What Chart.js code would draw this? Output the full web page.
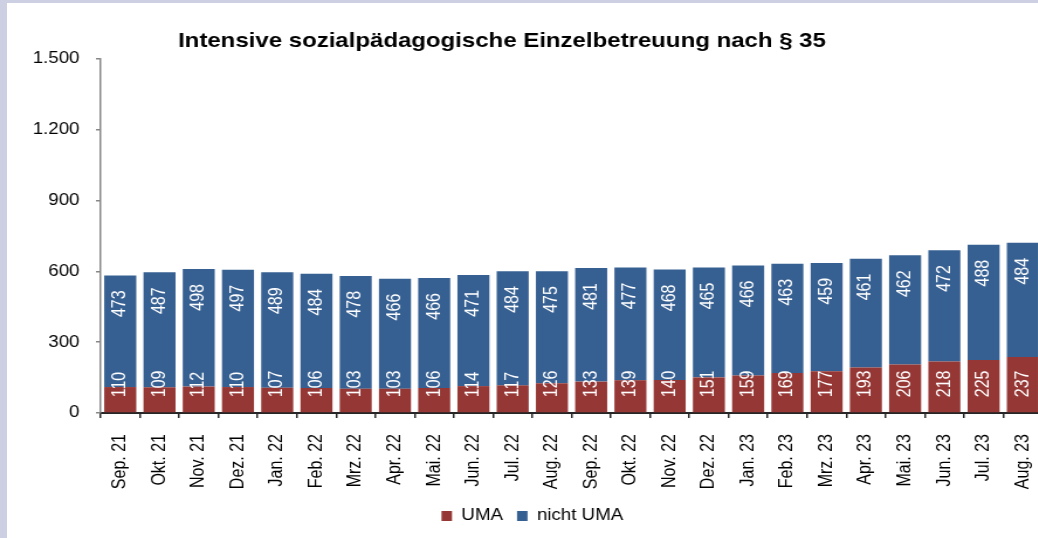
<!DOCTYPE html>
<html lang="de">
<head>
<meta charset="utf-8">
<title>Intensive sozialpädagogische Einzelbetreuung nach § 35</title>
<script src="https://cdn.jsdelivr.net/npm/chart.js@4/dist/chart.umd.min.js"></script>
<style>
    html, body { margin: 0; padding: 0; width: 1038px; height: 538px; overflow: hidden; background: #cdcfe3; }
    .sheet { position: absolute; left: 7px; top: 3px; right: 0; bottom: 0; background: #ffffff; }
    .stretch { position: absolute; left: 0; top: 0; width: 924px; height: 538px; transform: scaleX(1.17); transform-origin: 0 0; }
</style>
</head>
<body>
<div class="sheet"></div>
<div class="stretch"><canvas id="salesChart"></canvas></div>
<script>
const FONT = "'Liberation Sans', Arial, sans-serif";
const TITLE = 'Intensive sozialpädagogische Einzelbetreuung nach § 35';

const months = ['Sep. 21', 'Okt. 21', 'Nov. 21', 'Dez. 21', 'Jan. 22', 'Feb. 22', 'Mrz. 22', 'Apr. 22',
    'Mai. 22', 'Jun. 22', 'Jul. 22', 'Aug. 22', 'Sep. 22', 'Okt. 22', 'Nov. 22', 'Dez. 22',
    'Jan. 23', 'Feb. 23', 'Mrz. 23', 'Apr. 23', 'Mai. 23', 'Jun. 23', 'Jul. 23', 'Aug. 23'];
const uma = [110, 109, 112, 110, 107, 106, 103, 103, 106, 114, 117, 126,
    133, 139, 140, 151, 159, 169, 177, 193, 206, 218, 225, 237];
const nichtUma = [473, 487, 498, 497, 489, 484, 478, 466, 466, 471, 484, 475,
    481, 477, 468, 465, 466, 463, 459, 461, 462, 472, 488, 484];
const yTicks = [0, 300, 600, 900, 1200, 1500];
const yTickLabels = ['0', '300', '600', '900', '1.200', '1.500'];

// white numbers written upright inside the bars
const barValueLabels = {
    id: 'barValueLabels',
    afterDatasetsDraw(chart) {
        const ctx = chart.ctx;
        ctx.save();
        ctx.fillStyle = '#ffffff';
        ctx.font = `16px ${FONT}`;
        ctx.textBaseline = 'middle';
        chart.data.datasets.forEach((ds, di) => {
            chart.getDatasetMeta(di).data.forEach((bar, i) => {
                ctx.save();
                if (di === 0) {
                    ctx.translate(bar.x, bar.base - 15);
                    ctx.textAlign = 'left';
                } else {
                    ctx.translate(bar.x, bar.y + 15);
                    ctx.textAlign = 'right';
                }
                ctx.rotate(-Math.PI / 2);
                ctx.fillText(String(ds.data[i]), 0, 0);
                ctx.restore();
            });
        });
        ctx.restore();
    }
};

const chartTitle = {
    id: 'chartTitle',
    afterDraw(chart) {
        const ctx = chart.ctx;
        ctx.save();
        ctx.fillStyle = '#000000';
        ctx.font = `bold 20.5px ${FONT}`;
        ctx.textAlign = 'center';
        ctx.textBaseline = 'alphabetic';
        ctx.fillText(TITLE, 429, 47);
        ctx.restore();
    }
};

function buildChart() {
    const ctx = document.getElementById('salesChart').getContext('2d');
    new Chart(ctx, {
        type: 'bar',
        data: {
            labels: months,
            datasets: [{
                label: 'UMA',
                data: uma,
                backgroundColor: '#953735',
                categoryPercentage: 1,
                barPercentage: 0.816
            }, {
                label: 'nicht UMA',
                data: nichtUma,
                backgroundColor: '#376092',
                categoryPercentage: 1,
                barPercentage: 0.816
            }]
        },
        options: {
            responsive: true,
            maintainAspectRatio: false,
            animation: false,
            events: [],
            layout: {
                padding: { top: 59, right: 33, bottom: 4, left: 19 }
            },
            plugins: {
                tooltip: { enabled: false },
                title: { display: false },
                legend: {
                    position: 'bottom',
                    labels: {
                        boxWidth: 9,
                        boxHeight: 10,
                        padding: 12,
                        color: '#000000',
                        font: { family: FONT, size: 16 }
                    }
                }
            },
            scales: {
                x: {
                    stacked: true,
                    afterFit: scale => { scale.height = 83; },
                    border: { display: true, color: '#262626', width: 2 },
                    grid: {
                        offset: true,
                        drawOnChartArea: false,
                        drawTicks: true,
                        tickLength: 5,
                        color: '#262626',
                        lineWidth: 1.5
                    },
                    ticks: {
                        autoSkip: false,
                        minRotation: 90,
                        maxRotation: 90,
                        padding: 16,
                        color: '#000000',
                        font: { family: FONT, size: 16 }
                    }
                },
                y: {
                    stacked: true,
                    min: 0,
                    max: 1500,
                    afterFit: scale => { scale.width = 67; },
                    afterBuildTicks: scale => {
                        scale.ticks = yTicks.map(v => ({ value: v }));
                    },
                    border: { display: true, color: '#868686', width: 1.5 },
                    grid: {
                        drawOnChartArea: false,
                        drawTicks: true,
                        tickLength: 4,
                        color: '#868686',
                        lineWidth: 1.5
                    },
                    ticks: {
                        padding: 14,
                        color: '#000000',
                        font: { family: FONT, size: 16 },
                        callback: function(value) {
                            const idx = yTicks.indexOf(value);
                            return idx >= 0 ? yTickLabels[idx] : '';
                        }
                    }
                }
            }
        },
        plugins: [barValueLabels, chartTitle]
    });
}

document.addEventListener('DOMContentLoaded', () => {
    buildChart();
});
</script>
</body>
</html>
